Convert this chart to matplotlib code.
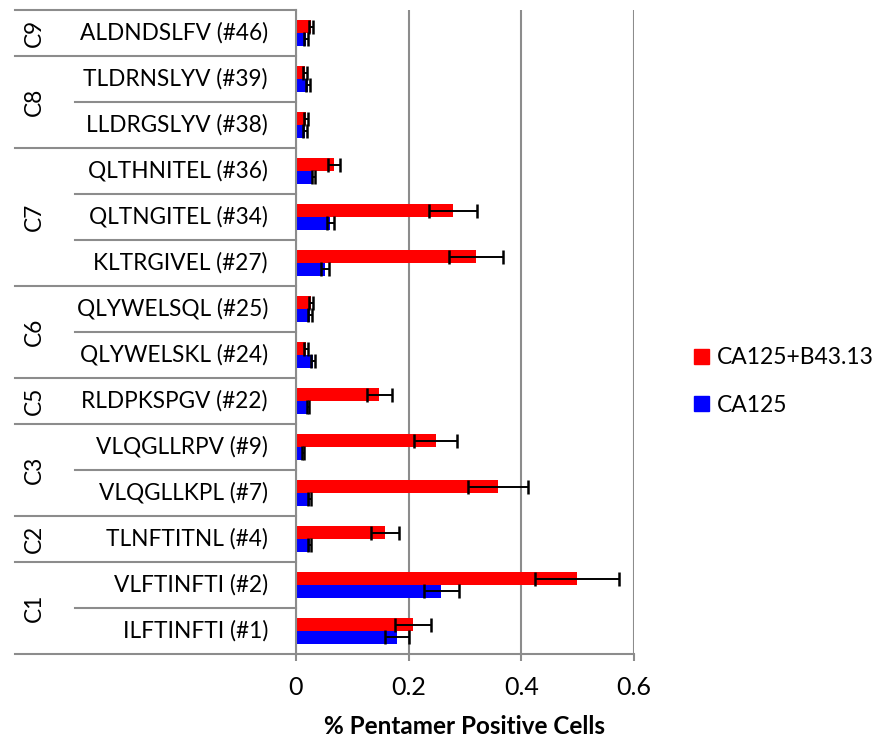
import matplotlib
matplotlib.use("Agg")
import matplotlib.pyplot as plt
from matplotlib.patches import Patch
import numpy as np

plt.rcParams['font.family'] = ['Lato', 'DejaVu Sans']

# rows listed top to bottom, as in the chart
peptides = ["ALDNDSLFV (#46)", "TLDRNSLYV (#39)", "LLDRGSLYV (#38)",
            "QLTHNITEL (#36)", "QLTNGITEL (#34)", "KLTRGIVEL (#27)",
            "QLYWELSQL (#25)", "QLYWELSKL (#24)", "RLDPKSPGV (#22)",
            "VLQGLLRPV (#9)", "VLQGLLKPL (#7)", "TLNFTITNL (#4)",
            "VLFTINFTI (#2)", "ILFTINFTI (#1)"]
groups = ["C9", "C8", "C7", "C6", "C5", "C3", "C2", "C1"]
group_sizes = [1, 2, 3, 2, 1, 2, 1, 2]

combo = [0.027, 0.016, 0.018, 0.068, 0.279, 0.319, 0.027,
         0.018, 0.148, 0.248, 0.359, 0.158, 0.499, 0.208]
combo_err = [0.004, 0.003, 0.003, 0.011, 0.042, 0.048, 0.004,
             0.004, 0.022, 0.038, 0.053, 0.024, 0.075, 0.032]
ca125 = [0.018, 0.021, 0.016, 0.031, 0.061, 0.051, 0.025,
         0.030, 0.021, 0.012, 0.024, 0.024, 0.258, 0.179]
ca125_err = [0.003, 0.003, 0.003, 0.003, 0.006, 0.007, 0.004,
             0.003, 0.002, 0.002, 0.002, 0.002, 0.031, 0.021]
xticks = [0, 0.2, 0.4, 0.6]

n = len(peptides)
y = np.arange(n)[::-1]  # top row gets highest y
h = 0.275
grid_col = "#8c8c8c"

fig = plt.figure(figsize=(8.77, 7.38), dpi=100)
ax = fig.add_axes([0.3375, 0.1138, 0.3854, 0.8726])

ax.set_axisbelow(True)
ax.xaxis.grid(True, color=grid_col, linewidth=1.5)

eb = dict(ecolor="black", elinewidth=1.4, capsize=4.8, capthick=1.8)
ax.barh(y + h / 2, combo, height=h, color="#ff0000", xerr=combo_err,
        error_kw=eb, label="CA125+B43.13")
ax.barh(y - h / 2, ca125, height=h, color="#0000ff", xerr=ca125_err,
        error_kw=eb, label="CA125")

ax.set_xlim(0, 0.6)
ax.set_ylim(-0.5, n - 0.5)
ax.set_xticks(xticks)
ax.set_xticklabels(["0", "0.2", "0.4", "0.6"])
ax.set_yticks([])
ax.tick_params(axis="x", length=5, width=1.5, color=grid_col,
               labelsize=18, pad=11)
for s in ["top", "right"]:
    ax.spines[s].set_visible(False)
for s in ["left", "bottom"]:
    ax.spines[s].set_color(grid_col)
    ax.spines[s].set_linewidth(1.5)

ax.set_xlabel("% Pentamer Positive Cells", fontsize=17.5, fontweight="bold",
              labelpad=11)

# category labels and table-like lines on the left
tr = ax.get_yaxis_transform()
x_outer, x_inner, x_lab, x_grp = -0.831, -0.654, -0.083, -0.775
for yi, name in zip(y, peptides):
    ax.text(x_lab, yi, name, transform=tr, ha="right", va="center",
            fontsize=16.3)

top = n - 0.5
ax.plot([x_outer, 0], [top, top], transform=tr, color=grid_col, lw=1.5,
        clip_on=False)
pos = top
for g, size in zip(groups, group_sizes):
    for k in range(1, size):
        ax.plot([x_inner, 0], [pos - k, pos - k], transform=tr,
                color=grid_col, lw=1.5, clip_on=False)
    ax.text(x_grp, pos - size / 2, g, transform=tr, ha="center",
            va="center", rotation=90, fontsize=16.3)
    pos -= size
    ax.plot([x_outer, 0], [pos, pos], transform=tr, color=grid_col,
            lw=1.5, clip_on=False)

handles = [Patch(color="#ff0000", label="CA125+B43.13"),
           Patch(color="#0000ff", label="CA125")]
fig.legend(handles=handles, loc="center left",
           bbox_to_anchor=(0.7913, 0.483), frameon=False, fontsize=16.5,
           handlelength=0.65, handleheight=0.65, labelspacing=1.15,
           handletextpad=0.35, borderpad=0, borderaxespad=0)

fig.savefig("out.png", dpi=100)
